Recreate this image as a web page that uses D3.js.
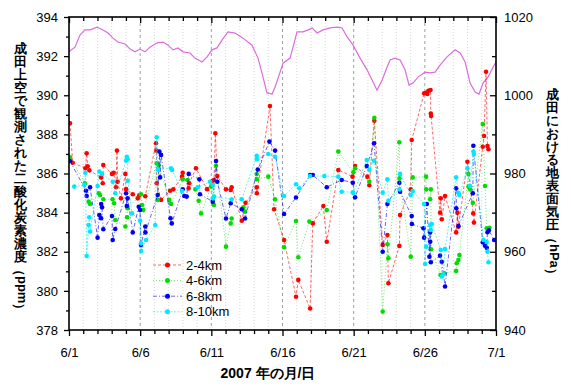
<!DOCTYPE html>
<html><head><meta charset="utf-8">
<script src="https://cdn.jsdelivr.net/npm/d3@7"></script>
<style>
body{margin:0;background:#fff}
text{font-family:"Liberation Sans",Arial,sans-serif}
</style>
</head><body>
<svg id="chart" width="571" height="387"></svg>
<script>
// ---- data ----
const dayTickLabels = ["6/1","6/6","6/11","6/16","6/21","6/26","7/1"];
const co2Ticks = [378,380,382,384,386,388,390,392,394];
const pressureTicks = [940,960,980,1000,1020];
const seriesNames = ["2-4km","4-6km","6-8km","8-10km"];
const leftTitle = "成田上空で観測された二酸化炭素濃度";
const leftUnit = "ppm";
const rightTitle = "成田における地表面気圧";
const rightUnit = "hPa";
const xTitle = "2007 年の月/日";

const redDays = [0.07,0.26,1.15,1.24,1.31,1.43,2.25,2.37,2.41,3.02,3.14,3.30,3.37,3.42,3.65,3.96,4.01,4.48,4.83,4.94,5.36,6.11,6.14,6.16,6.47,7.10,7.33,7.94,7.99,8.41,8.45,8.92,9.70,10.10,10.19,10.28,10.42,11.03,11.36,11.43,12.14,12.40,13.19,13.20,14.12,14.41,15.11,15.95,16.11,16.94,17.13,17.87,18.11,18.92,19.92,20.10,20.96,21.10,21.45,22.04,22.37,22.44,23.21,23.26,24.01,24.08,24.95,25.09,25.18,25.25,25.40,25.42,25.44,26.07,26.12,26.19,26.42,27.20,27.29,27.36,27.99,28.40,28.45,29.07,29.16,29.30,29.40,29.47];
const redValues = [388.57,386.55,386.27,387.03,386.37,386.16,385.8,385.5,386.43,385.98,386.04,385.3,387.17,385.58,384.73,385.98,385.2,384.94,384.73,384.89,384.84,387.55,387.17,385.5,384.65,385.12,385.19,385.84,386.04,385.24,385.5,386.27,385.2,385.63,385.67,388.06,385.87,385.19,385.16,385.3,383.59,384.5,385.3,384.99,389.45,384.17,382.6,379.7,380.56,379.1,383.45,384.34,382.51,386.18,385.84,386.38,385.84,385.4,388.7,382.35,382.86,380.39,382.3,383.88,385.19,387.71,390.1,390.13,390.07,390.23,390.27,389.07,388.94,384.0,384.73,383.66,384.85,382.99,384.0,383.28,386.6,383.96,383.49,387.37,387.92,391.2,387.4,387.24];

const greenDays = [0.07,1.12,1.38,1.48,2.09,2.18,2.41,3.06,3.17,3.25,3.96,4.08,4.12,5.06,5.13,5.22,6.16,6.23,6.30,7.04,7.17,7.99,8.34,8.88,9.11,9.28,9.98,10.19,10.33,11.03,11.36,11.43,12.25,12.37,13.19,13.20,14.00,14.47,15.11,15.95,16.11,16.89,18.11,18.92,19.98,20.10,21.10,21.45,22.04,22.37,22.44,23.21,23.22,24.01,24.15,25.09,25.10,25.37,25.42,25.44,26.10,26.37,27.20,27.24,27.36,27.43,28.06,28.07,28.18,28.37,29.07,29.23,29.35,29.54];
const greenValues = [386.83,385.5,384.56,384.44,384.99,384.9,384.68,384.68,384.48,383.62,383.29,383.76,384.22,384.94,384.39,384.13,386.52,384.65,386.43,384.65,384.44,385.7,385.67,385.19,384.61,383.96,385.33,384.39,386.4,382.26,383.45,383.7,384.27,384.05,385.97,385.7,385.84,384.68,382.23,383.57,381.72,383.54,384.13,387.12,386.07,386.27,385.58,388.85,378.94,382.38,381.67,387.6,385.75,381.75,385.8,385.84,385.19,384.68,385.19,382.13,380.81,380.9,381.02,381.41,381.58,381.83,385.98,385.33,385.19,384.5,388.53,385.36,383.2,383.23];

const blueDays = [0.07,1.19,1.24,1.48,2.01,2.13,2.25,2.26,2.32,2.41,3.02,3.07,3.25,4.01,4.06,4.12,4.48,4.90,4.99,5.06,5.36,5.37,6.23,6.35,6.40,6.47,7.13,7.22,7.99,8.10,8.27,8.41,9.16,9.20,10.10,10.33,10.42,11.03,11.36,12.14,12.37,13.26,14.08,14.48,15.11,15.95,16.94,17.13,18.11,19.16,19.94,20.10,20.92,21.43,22.04,22.37,23.21,23.26,24.08,24.09,24.90,24.95,25.14,25.32,25.37,25.38,25.42,26.07,26.19,26.42,27.20,27.21,27.36,28.37,28.41,29.07,29.23,29.35,29.40,29.50,29.87];
const blueValues = [386.64,385.12,384.85,385.3,382.72,383.88,383.71,384.44,384.27,383.15,383.83,382.6,383.16,384.99,384.34,384.73,382.99,384.3,384.13,382.35,383.29,382.99,384.9,387.12,385.8,386.95,383.71,383.45,385.19,384.85,384.82,385.98,385.7,384.94,384.56,386.64,385.58,383.7,384.48,384.17,383.7,386.2,387.63,387.17,383.93,384.77,385.92,385.92,385.3,385.67,385.53,384.78,386.38,387.55,382.0,384.44,385.53,385.07,383.83,383.42,383.2,382.72,384.44,381.75,382.99,382.51,381.46,381.8,381.49,380.22,385.24,384.22,383.32,384.99,387.42,382.48,382.31,382.2,383.0,383.1,382.6];

const cyanDays = [0.37,1.08,1.15,1.24,1.38,1.43,1.48,2.01,2.13,2.32,3.07,3.25,4.01,4.06,4.12,4.13,4.43,4.99,5.06,5.07,5.41,6.06,6.16,6.25,7.17,7.24,7.94,9.04,9.91,10.10,10.11,10.19,11.43,12.14,13.19,13.20,14.00,14.47,15.11,15.95,16.18,16.94,17.94,18.92,19.16,19.94,19.98,20.92,21.10,21.43,22.04,22.37,22.44,23.21,23.26,24.01,24.15,24.95,25.02,25.09,25.37,25.42,25.49,26.12,26.19,26.30,26.42,27.20,27.36,27.43,27.99,28.18,28.41,28.45,29.12,29.35,29.40,29.47];
const cyanValues = [385.33,385.41,386.04,381.78,383.37,383.76,383.03,385.36,386.1,385.98,385.58,384.99,386.66,386.86,386.73,385.63,383.96,383.59,382.43,382.04,382.6,383.37,387.85,386.2,386.27,386.18,385.1,385.3,385.58,385.41,384.73,384.82,384.68,384.68,386.9,386.73,387.0,386.86,384.85,385.45,385.24,385.87,385.87,385.84,385.07,385.04,384.99,386.69,386.18,386.65,385.02,385.7,384.61,385.19,385.98,384.9,385.1,384.44,381.37,382.26,383.37,383.11,383.42,382.09,380.73,380.85,382.14,385.8,385.0,384.9,386.27,385.36,387.12,387.0,382.6,382.5,382.0,381.46];

const pressureDays = [0,0.42,0.77,1.12,1.48,1.97,2.39,2.74,3.09,3.44,3.94,4.29,4.64,4.99,5.34,5.69,6.18,6.61,6.96,7.31,7.66,8.01,8.50,8.85,9.35,9.70,10.05,10.40,10.75,11.17,11.67,12.23,12.86,13.28,13.63,13.91,14.27,14.48,14.83,15.04,15.53,15.74,16.02,16.44,16.80,17.08,17.43,17.85,18.34,18.83,19.19,19.54,19.96,20.45,20.94,21.29,21.64,22.00,22.35,22.56,22.91,23.26,23.61,23.89,24.17,24.53,25.02,25.37,25.72,26.07,26.56,27.13,27.48,27.83,28.18,28.53,28.81,29.09,29.45,29.80,30.00];
const pressureValues = [1011.1,1012.3,1015.4,1016.7,1016.7,1017.4,1016.7,1015.9,1014.6,1013.6,1013.1,1011.8,1011.1,1011.8,1011.1,1012.3,1013.4,1013.6,1012.8,1011.6,1012.1,1011.1,1010.8,1009.5,1008.5,1009.8,1011.6,1012.1,1014.1,1016.2,1015.9,1014.6,1012.8,1009.5,1004.7,1000.6,1000.3,1002.1,1005.9,1008.2,1009.5,1012.3,1016.2,1016.2,1016.7,1017.2,1015.9,1016.7,1017.2,1017.4,1017.2,1014.9,1012.8,1009.5,1006.5,1003.9,1001.3,1003.9,1007.2,1009.0,1009.5,1009.0,1006.5,1002.6,1003.1,1004.7,1005.9,1005.7,1005.9,1007.7,1009.8,1011.6,1010.8,1008.5,1003.1,1000.8,1000.3,1003.1,1004.7,1007.2,1008.5];

// ---- layout ----
const L = 69, R = 496, T = 17, B = 330;
const svg = d3.select("#chart");
const x = d3.scaleLinear().domain([0, 30]).range([L, R]);
const y = d3.scaleLinear().domain([378, 394]).range([B, T]);
const yP = d3.scaleLinear().domain([940, 1020]).range([B, T]);

const allDays = d3.range(0, 31);
const majorDays = d3.range(0, 31, 5);

// grid
const grid = svg.append("g");
grid.selectAll("line.minor").data(allDays.filter(d => d % 5 !== 0)).join("line")
  .attr("x1", d => x(d)).attr("x2", d => x(d)).attr("y1", T).attr("y2", B)
  .attr("stroke", "#d8d8d8").attr("stroke-width", 1).attr("stroke-dasharray", "1,2");
grid.selectAll("line.major").data(majorDays.filter(d => d > 0 && d < 30)).join("line")
  .attr("x1", d => x(d)).attr("x2", d => x(d)).attr("y1", T).attr("y2", B)
  .attr("stroke", "#a0a0a0").attr("stroke-width", 1).attr("stroke-dasharray", "3,3");

svg.append("defs").append("clipPath").attr("id", "clip")
  .append("rect").attr("x", L).attr("y", T).attr("width", R - L).attr("height", B - T);

// pressure line
svg.append("path")
  .datum(pressureDays.map((d, i) => [d, pressureValues[i]]))
  .attr("clip-path", "url(#clip)")
  .attr("fill", "none").attr("stroke", "#dc6ddc").attr("stroke-width", 1.2)
  .attr("d", d3.line().x(d => x(d[0])).y(d => yP(d[1])));

// series
const series = [
  {name: seriesNames[0], days: redDays, values: redValues, color: "#ff0000", dash: "3,2"},
  {name: seriesNames[1], days: greenDays, values: greenValues, color: "#00dd00", dash: "1,2"},
  {name: seriesNames[2], days: blueDays, values: blueValues, color: "#0000ee", dash: "4,2,1,2"},
  {name: seriesNames[3], days: cyanDays, values: cyanValues, color: "#00e8ff", dash: "2,1.5"}
];
const lineGen = d3.line().x(d => x(d[0])).y(d => y(d[1]));
series.forEach(s => {
  const pts = s.days.map((d, i) => [d, s.values[i]]);
  const g = svg.append("g").attr("clip-path", "url(#clip)");
  g.append("path").datum(pts).attr("fill", "none").attr("stroke", s.color)
    .attr("stroke-opacity", 0.6).attr("stroke-width", 1).attr("stroke-dasharray", s.dash)
    .attr("d", lineGen);
  g.selectAll("circle").data(pts).join("circle")
    .attr("cx", d => x(d[0])).attr("cy", d => y(d[1])).attr("r", 2.3)
    .attr("fill", s.color);
});

// axes
const fs = "13px";
svg.append("g").attr("transform", `translate(0,${B})`)
  .call(d3.axisBottom(x).tickValues(majorDays).tickFormat((d, i) => dayTickLabels[i])
    .tickSizeInner(6).tickSizeOuter(0).tickPadding(12));
svg.append("g").attr("transform", `translate(0,${B})`)
  .call(d3.axisBottom(x).tickValues(allDays.filter(d => d % 5)).tickFormat("").tickSizeInner(4).tickSizeOuter(0));
svg.append("g").attr("transform", `translate(0,${T})`)
  .call(d3.axisTop(x).tickValues(majorDays).tickFormat("").tickSizeInner(-6).tickSizeOuter(0));
svg.append("g").attr("transform", `translate(0,${T})`)
  .call(d3.axisTop(x).tickValues(allDays.filter(d => d % 5)).tickFormat("").tickSizeInner(-4).tickSizeOuter(0));

svg.append("g").attr("transform", `translate(${L},0)`)
  .call(d3.axisLeft(y).tickValues(co2Ticks).tickFormat(d3.format("d")).tickSizeInner(5).tickSizeOuter(0).tickPadding(6));
svg.append("g").attr("transform", `translate(${L},0)`)
  .call(d3.axisLeft(y).tickValues(d3.range(379, 394, 2)).tickFormat("").tickSizeInner(3).tickSizeOuter(0));

svg.append("g").attr("transform", `translate(${R},0)`)
  .call(d3.axisRight(yP).tickValues(pressureTicks).tickFormat(d3.format("d")).tickSizeInner(-6).tickSizeOuter(0).tickPadding(8));
svg.append("g").attr("transform", `translate(${R},0)`)
  .call(d3.axisRight(yP).tickValues(d3.range(950, 1020, 20)).tickFormat("").tickSizeInner(-4).tickSizeOuter(0));

svg.selectAll(".domain").remove();
svg.selectAll(".tick line").attr("stroke", "#000").attr("stroke-width", 1.3);
svg.selectAll(".tick text").attr("font-size", fs).attr("fill", "#000")
  .attr("font-family", "'Liberation Sans', Arial, sans-serif");

svg.append("rect").attr("x", L).attr("y", T).attr("width", R - L).attr("height", B - T)
  .attr("fill", "none").attr("stroke", "#000").attr("stroke-width", 1.6);

// legend
const leg = svg.append("g");
series.forEach((s, i) => {
  const ly = 265 + i * 15.6;
  leg.append("line").attr("x1", 153).attr("x2", 182).attr("y1", ly).attr("y2", ly)
    .attr("stroke", s.color).attr("stroke-opacity", 0.6).attr("stroke-dasharray", s.dash);
  leg.append("circle").attr("cx", 167.5).attr("cy", ly).attr("r", 2.5).attr("fill", s.color);
  leg.append("text").attr("x", 186).attr("y", ly + 4.5).attr("font-size", "13px").text(s.name);
});

// vertical titles: whole line rotated 90deg, CJK glyphs rotated back upright
const cjk = "'Noto Sans CJK JP', sans-serif";
function verticalTitle(cx, inkTop, main, unit, size) {
  const n = Array.from(main).length;
  const t = svg.append("text")
    .attr("transform", `translate(${cx - size / 2},${inkTop + 0.88 * size}) rotate(90)`)
    .attr("font-family", cjk).attr("font-weight", "bold").attr("font-size", size + "px").attr("fill", "#000");
  t.append("tspan").attr("rotate", "-90").text(main);
  t.append("tspan").attr("dx", -0.88 * size).attr("dy", -0.12 * size).text("（");
  t.append("tspan").attr("dy", -0.26 * size).text(unit);
  t.append("tspan").attr("dy", 0.26 * size).text("）");
}
verticalTitle(20, 42, leftTitle, leftUnit, 13);
verticalTitle(552, 88, rightTitle, rightUnit, 13);

svg.append("text").attr("x", 268).attr("y", 378).attr("text-anchor", "middle")
  .attr("font-family", cjk).attr("font-weight", "bold").attr("font-size", "14px")
  .text(xTitle);
</script>
</body></html>
